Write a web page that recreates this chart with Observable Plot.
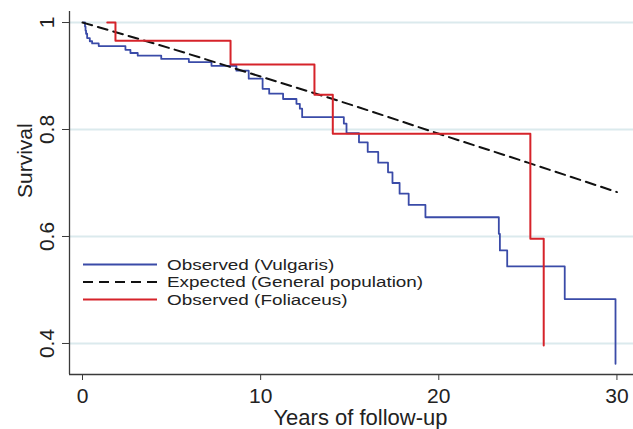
<!DOCTYPE html>
<html><head><meta charset="utf-8">
<script src="https://cdn.jsdelivr.net/npm/d3@7"></script>
<script src="https://cdn.jsdelivr.net/npm/@observablehq/plot@0.6"></script>
<style>
html,body{margin:0;padding:0;background:#fff;overflow:hidden}
#chart{position:relative;width:633px;height:429px}
</style></head><body><div id="chart"></div>
<script>
// ---- data ----
const xTicks = [0, 10, 20, 30];
const yTicks = [0.4, 0.6, 0.8, 1];
const seriesNames = ["Observed (Vulgaris)", "Expected (General population)", "Observed (Foliaceus)"];
const seriesColors = ["#3a4ba8", "#111111", "#d6232a"];
const axisLabels = {x: "Years of follow-up", y: "Survival"};

const expectedT = [0, 5, 10, 15, 20, 25, 30];
const expectedS = [1, 0.951, 0.899, 0.847, 0.792, 0.738, 0.683];

const vulgarisT = [0.06, 0.14, 0.17, 0.20, 0.26, 0.41, 0.54, 0.91, 2.41, 2.69, 3.10, 4.42, 5.97, 7.24, 8.64, 9.33, 10.11, 10.48, 11.26, 12.01, 12.20, 12.33, 14.67, 14.82, 15.52, 16.01, 16.60, 17.15, 17.40, 17.80, 18.31, 19.25, 23.37, 23.43, 23.84, 27.07, 29.92];
const vulgarisS = [1, 0.9925, 0.985, 0.979, 0.971, 0.965, 0.961, 0.956, 0.949, 0.943, 0.938, 0.932, 0.926, 0.919, 0.910, 0.895, 0.876, 0.867, 0.857, 0.848, 0.839, 0.823, 0.811, 0.793, 0.776, 0.758, 0.738, 0.720, 0.700, 0.680, 0.659, 0.636, 0.605, 0.574, 0.544, 0.483, 0.362];

const foliaceusT = [1.39, 1.85, 8.31, 13.02, 14.05, 25.14, 25.89];
const foliaceusS = [1, 0.966, 0.9215, 0.865, 0.792, 0.596, 0.396];

// ---- tables ----
const toRows = (T, S) => T.map((t, i) => ({t, s: S[i]}));
const vulgaris = toRows(vulgarisT, vulgarisS);
const expected = toRows(expectedT, expectedS);
const foliaceus = toRows(foliaceusT, foliaceusS);

const xDomain = [-0.73, 30.93];
const yDomain = [0.342, 1.0206];
const font = "'Liberation Sans', Arial, Helvetica, sans-serif";
const axisColor = "#3a3a3a";

const plot = Plot.plot({
  width: 633, height: 429,
  marginLeft: 69, marginRight: 0, marginTop: 11, marginBottom: 55,
  style: {fontFamily: font, color: "#222", background: "#fff", overflow: "visible"},
  x: {domain: xDomain},
  y: {domain: yDomain},
  marks: [
    Plot.gridY(yTicks, {stroke: "#dbeaed", strokeOpacity: 1, strokeWidth: 2}),
    Plot.line(vulgaris, {x: "t", y: "s", curve: "step-after", stroke: seriesColors[0], strokeWidth: 1.8}),
    Plot.line(expected, {x: "t", y: "s", curve: "monotone-x", stroke: seriesColors[1], strokeWidth: 2, strokeDasharray: "10,6"}),
    Plot.line(foliaceus, {x: "t", y: "s", curve: "step-after", stroke: seriesColors[2], strokeWidth: 2}),
    Plot.ruleX([xDomain[0]], {stroke: axisColor, strokeWidth: 1.3}),
    Plot.ruleY([yDomain[0]], {stroke: axisColor, strokeWidth: 1.3}),
    Plot.axisX(xTicks, {tickSize: 6, tickPadding: 8, fontSize: 21, label: null, stroke: axisColor, fill: "#222"}),
    Plot.axisY(yTicks, {tickSize: 7, tickPadding: 9, tickRotate: -90, fontSize: 21, label: null, stroke: axisColor, fill: "#222", tickFormat: d => `${d}`}),
    Plot.text([axisLabels.x], {text: d => d, frameAnchor: "bottom", lineAnchor: "top", dy: 35, dx: 9, fontSize: 22, fill: "#222"}),
    Plot.text([axisLabels.y], {text: d => d, frameAnchor: "left", rotate: -90, lineAnchor: "bottom", dx: -38, dy: 5, fontSize: 21, fill: "#222"})
  ]
});

// ---- legend (inside plot area, lower left) ----
const svg = d3.select(plot);
const leg = svg.append("g").attr("font-family", font).attr("font-size", 15)
  .attr("fill", "#222").attr("text-anchor", "start");
const legX0 = 83, legX1 = 157, legTextX = 167, legY0 = 264.5, legStep = 17.5, legStretch = 1.26;
const dashes = [null, "10,6", null];
seriesNames.forEach((name, i) => {
  const y = legY0 + i * legStep;
  leg.append("line").attr("x1", legX0).attr("x2", legX1).attr("y1", y).attr("y2", y)
    .attr("stroke", seriesColors[i]).attr("stroke-width", i === 1 ? 2 : 1.8)
    .attr("stroke-dasharray", dashes[i]);
  leg.append("text").attr("transform", `translate(${legTextX},${y}) scale(${legStretch},1)`)
    .attr("dy", "0.36em").attr("text-anchor", "start").text(name);
});

document.getElementById("chart").appendChild(plot);
</script>
</body></html>
